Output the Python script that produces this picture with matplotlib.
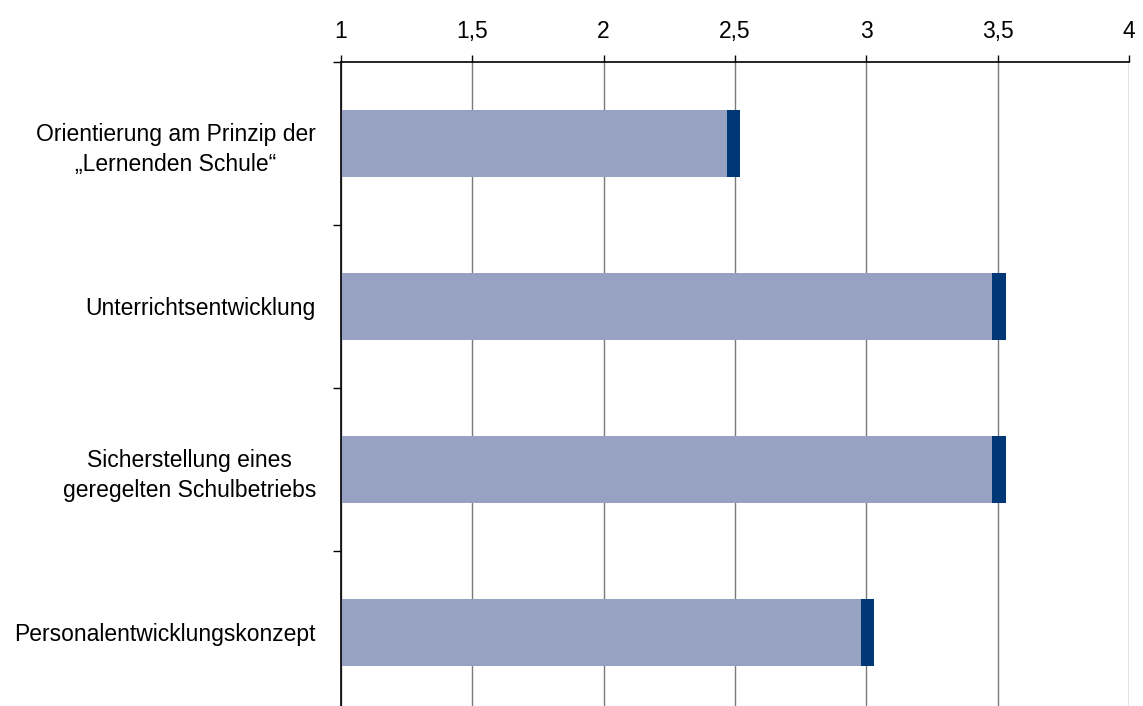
import matplotlib
matplotlib.use("Agg")

import matplotlib.pyplot as plt
import numpy as np

# --- Data ---
categories = [
    "Orientierung am Prinzip der\n\u201eLernenden Schule\u201c",
    "Unterrichtsentwicklung",
    "Sicherstellung eines\ngeregelten Schulbetriebs",
    "Personalentwicklungskonzept",
]
base_values = [2.47, 3.48, 3.48, 2.98]   # light segment end
marker_width = [0.05, 0.05, 0.05, 0.05]  # dark segment on top
x_min, x_max = 1, 4
x_ticks = [1, 1.5, 2, 2.5, 3, 3.5, 4]
x_tick_labels = ["1", "1,5", "2", "2,5", "3", "3,5", "4"]

LIGHT = "#97A2C3"
DARK = "#003776"

plt.rcParams["font.family"] = ["Liberation Sans", "DejaVu Sans"]

fig = plt.figure(figsize=(11.43, 7.06), dpi=100)
ax = fig.add_axes([0.2983, -0.0113, 0.6895, 0.9235])

y = np.arange(len(categories)) + 0.5
base = np.array(base_values)
ax.barh(y, base - x_min, left=x_min, height=0.41, color=LIGHT, zorder=2)
ax.barh(y, marker_width, left=base, height=0.41, color=DARK, zorder=2)

# x axis on top, vertical grid
ax.set_xlim(x_min, x_max)
ax.xaxis.tick_top()
ax.set_xticks(x_ticks)
ax.set_xticklabels(x_tick_labels, fontsize=16.5)
ax.tick_params(axis="x", length=5, width=1, pad=9, color="black")
ax.grid(axis="x", color="#7a7a7a", linewidth=1, zorder=1)

# y axis: ticks at category boundaries, labels centred on bars
ax.set_ylim(len(categories), 0)
ax.set_yticks(np.arange(len(categories)))
ax.set_yticklabels([])
ax.tick_params(axis="y", which="major", length=6, width=1, color="black")
ax.set_yticks(y, minor=True)
ax.set_yticklabels(categories, minor=True, fontsize=16.5,
                   multialignment="center", linespacing=1.4)
ax.tick_params(axis="y", which="minor", length=0, pad=18)

for side in ["right", "bottom"]:
    ax.spines[side].set_visible(False)
ax.spines["top"].set_linewidth(1.2)
ax.spines["left"].set_linewidth(1.2)

fig.savefig("out.png", dpi=100)
